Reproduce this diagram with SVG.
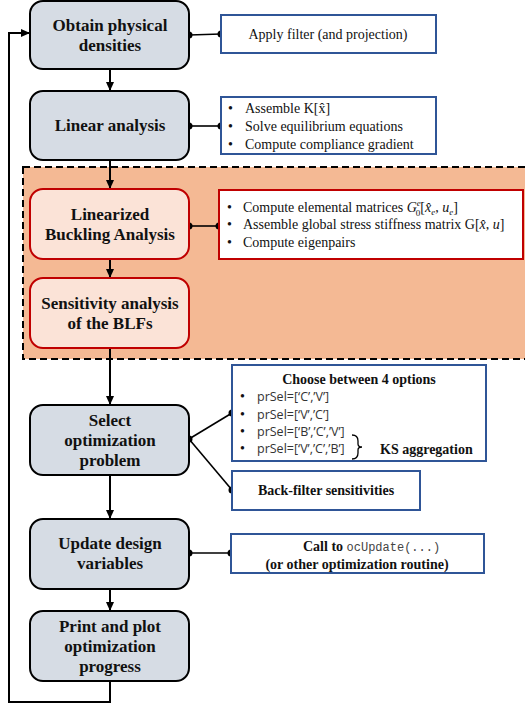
<svg xmlns="http://www.w3.org/2000/svg" width="525" height="706" viewBox="0 0 525 706">
  <style>
    .node rect { fill: #d6dce4; stroke: #000; stroke-width: 2; }
    .node.red rect { fill: #fbe3d7; stroke: #c00000; }
    .serif, .node text, .info text { font-family: "Liberation Serif", "Times New Roman", Tinos, "DejaVu Serif", serif; }
    .node text { font-weight: bold; font-size: 17px; text-anchor: middle; fill: #111; }
    .info rect { fill: #fff; stroke: #2f5597; stroke-width: 2; }
    .info.red rect { stroke: #c00000; }
    .info text { font-size: 14px; fill: #111; }
    .info .b { font-weight: bold; }
    .info text.sans { font-family: "Open Sans", "Noto Sans", sans-serif; font-size: 12.5px; fill: #333; }
    .info tspan.mono { font-family: "Liberation Mono", monospace; font-size: 12px; font-weight: normal; fill: #444; }
    .it { font-style: italic; }
    .links line, .links polyline { stroke: #000; stroke-width: 2; fill: none; }
    .links .thin { stroke-width: 1.6; }
    .dot { fill: #000; }
  </style>
  <defs>
    <marker id="arrow" markerWidth="10" markerHeight="10" refX="8" refY="5" orient="auto" markerUnits="userSpaceOnUse">
      <path d="M0,1 L9,5 L0,9 Z" fill="#000"/>
    </marker>
  </defs>

  <!-- shaded buckling region -->
  <rect id="buckling-region" x="23" y="167" width="510" height="192" fill="#f4b994" stroke="#000" stroke-width="2" stroke-dasharray="7 4"/>

  <!-- connectors -->
  <g class="links">
    <line x1="110" y1="69" x2="110" y2="90" marker-end="url(#arrow)"/>
    <line x1="110" y1="160" x2="110" y2="188" marker-end="url(#arrow)"/>
    <line x1="110" y1="259" x2="110" y2="277" marker-end="url(#arrow)"/>
    <line x1="110" y1="348" x2="110" y2="404" marker-end="url(#arrow)"/>
    <line x1="110" y1="475" x2="110" y2="518" marker-end="url(#arrow)"/>
    <line x1="110" y1="589" x2="110" y2="610" marker-end="url(#arrow)"/>
    <polyline points="110,681 110,702 9,702 9,33 29,33" marker-end="url(#arrow)"/>

    <line class="thin" x1="189" y1="35" x2="221" y2="34"/>
    <line class="thin" x1="189" y1="126" x2="221" y2="126"/>
    <line class="thin" x1="189" y1="226" x2="219" y2="226"/>
    <line class="thin" x1="189" y1="439" x2="232" y2="413"/>
    <line class="thin" x1="189" y1="439" x2="232" y2="490"/>
    <line class="thin" x1="189" y1="553" x2="231" y2="553"/>
    <g class="dot">
      <circle cx="189" cy="35" r="3.5"/><circle cx="221" cy="34" r="3.5"/>
      <circle cx="189" cy="126" r="3.5"/><circle cx="221" cy="126" r="3.5"/>
      <circle cx="189" cy="226" r="3.5"/><circle cx="219" cy="226" r="3.5"/>
      <circle cx="189" cy="439" r="3.5"/><circle cx="232" cy="413" r="3.5"/><circle cx="232" cy="490" r="3.5"/>
      <circle cx="189" cy="553" r="3.5"/><circle cx="231" cy="553" r="3.5"/>
    </g>
  </g>

  <!-- process nodes -->
  <g id="obtain-densities" class="node">
    <rect x="30" y="1" width="159" height="68" rx="13"/>
    <text x="110" y="31">Obtain physical</text>
    <text x="110" y="51">densities</text>
  </g>
  <g id="linear-analysis" class="node">
    <rect x="30" y="91" width="159" height="69" rx="13"/>
    <text x="110" y="131">Linear analysis</text>
  </g>
  <g id="buckling-analysis" class="node red">
    <rect x="30" y="189" width="159" height="70" rx="13"/>
    <text x="110" y="220">Linearized</text>
    <text x="110" y="240">Buckling Analysis</text>
  </g>
  <g id="blf-sensitivity" class="node red">
    <rect x="30" y="278" width="159" height="70" rx="13"/>
    <text x="110" y="309">Sensitivity analysis</text>
    <text x="110" y="329">of the BLFs</text>
  </g>
  <g id="select-problem" class="node">
    <rect x="30" y="405" width="159" height="70" rx="13"/>
    <text x="110" y="426">Select</text>
    <text x="110" y="446">optimization</text>
    <text x="110" y="466">problem</text>
  </g>
  <g id="update-variables" class="node">
    <rect x="30" y="519" width="159" height="70" rx="13"/>
    <text x="110" y="549">Update design</text>
    <text x="110" y="569">variables</text>
  </g>
  <g id="print-plot" class="node">
    <rect x="30" y="611" width="159" height="70" rx="13"/>
    <text x="110" y="632">Print and plot</text>
    <text x="110" y="652">optimization</text>
    <text x="110" y="672">progress</text>
  </g>

  <!-- detail boxes -->
  <g id="filter-box" class="info">
    <rect x="221" y="15" width="215" height="38"/>
    <text x="328" y="39" text-anchor="middle">Apply filter (and projection)</text>
  </g>
  <g id="linear-box" class="info">
    <rect x="221" y="97" width="215" height="57"/>
    <text x="228" y="113">•</text><text x="245" y="113">Assemble K[x̂]</text>
    <text x="228" y="131">•</text><text x="245" y="131">Solve equilibrium equations</text>
    <text x="228" y="149">•</text><text x="245" y="149">Compute compliance gradient</text>
  </g>
  <g id="buckling-box" class="info red">
    <rect x="219" y="190" width="304" height="69"/>
    <text x="227" y="212">•</text>
    <text x="243" y="212">Compute elemental matrices <tspan class="it">G</tspan><tspan class="it" font-size="9" dy="-6">e</tspan><tspan font-size="9" dx="-5" dy="10">0</tspan><tspan dy="-4">[</tspan><tspan class="it">x̂</tspan><tspan class="it" font-size="9" dy="3">e</tspan><tspan dy="-3">, </tspan><tspan class="it">u</tspan><tspan class="it" font-size="9" dy="3">e</tspan><tspan dy="-3">]</tspan></text>
    <text x="227" y="229">•</text>
    <text x="243" y="229">Assemble global stress stiffness matrix G[<tspan class="it">x̂</tspan>, <tspan class="it">u</tspan>]</text>
    <text x="227" y="247">•</text>
    <text x="243" y="247">Compute eigenpairs</text>
  </g>
  <g id="options-box" class="info">
    <rect x="232" y="365" width="254" height="96"/>
    <text class="b" x="359" y="384" text-anchor="middle" font-size="14.5">Choose between 4 options</text>
    <text x="240" y="401">•</text><text class="sans" x="257" y="401">prSel=[‘C’,’V’]</text>
    <text x="240" y="419">•</text><text class="sans" x="257" y="419">prSel=[‘V’,’C’]</text>
    <text x="240" y="436">•</text><text class="sans" x="257" y="436">prSel=[‘B’,’C’,’V’]</text>
    <text x="240" y="453">•</text><text class="sans" x="257" y="453">prSel=[‘V’,’C’,’B’]</text>
    <path d="M352,435 Q358,435 358,441 L358,444 Q358,447 362,447 Q358,447 358,450 L358,453 Q358,459 352,459" fill="none" stroke="#000" stroke-width="1.3"/>
    <text class="b" x="380" y="454" font-size="14.5">KS aggregation</text>
  </g>
  <g id="backfilter-box" class="info">
    <rect x="232" y="471" width="188" height="39"/>
    <text class="b" x="326" y="495" text-anchor="middle" font-size="14.5">Back-filter sensitivities</text>
  </g>
  <g id="update-box" class="info">
    <rect x="231" y="534" width="253" height="39"/>
    <text class="b" x="303" y="551" font-size="14.5">Call to <tspan class="mono">ocUpdate(...)</tspan></text>
    <text class="b" x="357" y="569" text-anchor="middle" font-size="14.5">(or other optimization routine)</text>
  </g>
</svg>
